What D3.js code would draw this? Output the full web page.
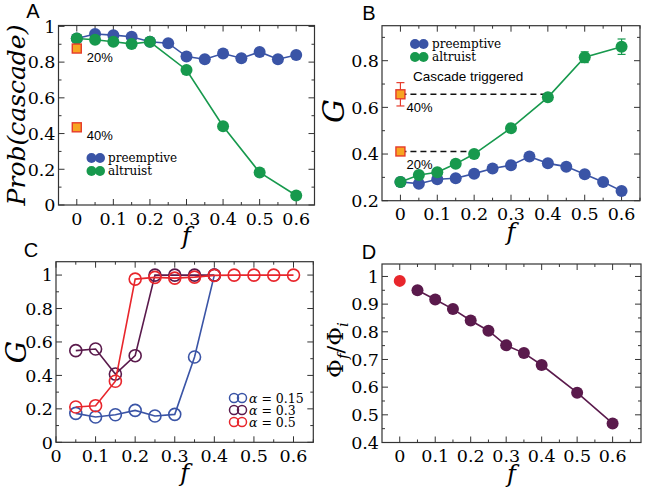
<!DOCTYPE html>
<html><head><meta charset="utf-8">
<script src="https://cdn.jsdelivr.net/npm/d3@7"></script>
<style>
html,body{margin:0;padding:0;background:#fff;}
svg{display:block;}
</style></head>
<body>
<svg id="chart" width="646" height="490"></svg>
<script>
// ---------- DATA ----------
const fAll = [0,0.05,0.1,0.15,0.2,0.25,0.3,0.35,0.4,0.45,0.5,0.55,0.6];
const fAlt = [0,0.05,0.1,0.15,0.2,0.3,0.4,0.5,0.6];
const xTickLabels = [0,0.1,0.2,0.3,0.4,0.5,0.6];

const aPreemptive = [0.932,0.957,0.951,0.942,0.914,0.906,0.831,0.816,0.848,0.822,0.857,0.816,0.84];
const aAltruist   = [0.932,0.925,0.914,0.902,0.914,0.756,0.441,0.182,0.053];
const cascadeLabels = ["20%","40%"];
const aCascade = [0.876,0.435];

const bPreemptive = [0.28,0.273,0.292,0.296,0.316,0.338,0.352,0.389,0.36,0.346,0.313,0.28,0.242];
const bAltruist   = [0.28,0.31,0.322,0.358,0.40,0.511,0.643,0.815,0.86];
const bAltruistErr= [0.004,0.004,0.004,0.004,0.004,0.005,0.006,0.023,0.033];
const bCascade = [0.411,0.656];
const bCascadeErr = [0.016,0.05];
const bCascadeReach = [0.2,0.4];

const fC = [0.05,0.1,0.15,0.2,0.25,0.3,0.35,0.4,0.45,0.5,0.55,0.6];
const alphaLabels = ["0.15","0.3","0.5"];
const cAlpha015 = [0.173,0.151,0.165,0.191,0.157,0.167,0.51,1.0];
const cAlpha03  = [0.548,0.558,0.408,0.518,1.0,1.0,1.0,1.0];
const cAlpha05  = [0.211,0.219,0.365,0.976,0.986,0.982,0.988,0.998,1.0,1.0,1.0,1.0];

const fD = [0.05,0.1,0.15,0.2,0.25,0.3,0.35,0.4,0.5,0.6];
const dRatio = [0.95,0.917,0.882,0.841,0.804,0.751,0.723,0.68,0.58,0.469];
const dBaseline = 0.984;

// ---------- STYLE ----------
const BLUE = "#3a54a6", GREEN = "#17994d", PURPLE = "#5a1a4c", RED = "#e8262c";
const SQ_FILL = "#f7a521", SQ_STROKE = "#e63b2b";
const SERIF = "DejaVu Serif, Liberation Serif, serif";
const SANS = "Liberation Sans, Arial, sans-serif";

const svg = d3.select("#chart");

function range(a,b,s){const r=[];for(let v=a;v<=b+1e-9;v+=s)r.push(+v.toFixed(4));return r;}

function panel(o){
  const g = svg.append("g");
  const x = d3.scaleLinear().domain(o.xd).range([o.x0,o.x1]);
  const y = d3.scaleLinear().domain(o.yd).range([o.y1,o.y0]);
  const tk = g.append("g").attr("stroke","#333").attr("stroke-width",1);
  const major=6, minor=3;
  o.xMajor.forEach(v=>{const px=x(v);
    tk.append("line").attr("x1",px).attr("x2",px).attr("y1",o.y1).attr("y2",o.y1-major);
    tk.append("line").attr("x1",px).attr("x2",px).attr("y1",o.y0).attr("y2",o.y0+major);});
  o.xMinor.forEach(v=>{const px=x(v);
    tk.append("line").attr("x1",px).attr("x2",px).attr("y1",o.y1).attr("y2",o.y1-minor);
    tk.append("line").attr("x1",px).attr("x2",px).attr("y1",o.y0).attr("y2",o.y0+minor);});
  o.yMajor.forEach(v=>{const py=y(v);
    tk.append("line").attr("x1",o.x0).attr("x2",o.x0+major).attr("y1",py).attr("y2",py);
    tk.append("line").attr("x1",o.x1).attr("x2",o.x1-major).attr("y1",py).attr("y2",py);});
  o.yMinor.forEach(v=>{const py=y(v);
    tk.append("line").attr("x1",o.x0).attr("x2",o.x0+minor).attr("y1",py).attr("y2",py);
    tk.append("line").attr("x1",o.x1).attr("x2",o.x1-minor).attr("y1",py).attr("y2",py);});
  g.append("rect").attr("x",o.x0).attr("y",o.y0).attr("width",o.x1-o.x0).attr("height",o.y1-o.y0)
    .attr("fill","none").attr("stroke","#333").attr("stroke-width",1.2);
  const fs = 17.5;
  o.xLabels.forEach(v=>{
    g.append("text").attr("x",x(v)).attr("y",o.y1+19.5).attr("text-anchor","middle")
     .attr("font-family",SERIF).attr("font-size",fs).text(d3.format("")(v));});
  o.yLabels.forEach(v=>{
    g.append("text").attr("x",o.x0-3).attr("y",y(v)+6.3).attr("text-anchor","end")
     .attr("font-family",SERIF).attr("font-size",fs).text(d3.format("")(v));});
  g.append("text").attr("x",(o.x0+o.x1)/2).attr("y",o.y1+39).attr("text-anchor","middle")
   .attr("font-family",SERIF).attr("font-style","italic").attr("font-size",24).text("f");
  g.append("text").attr("x",o.lx).attr("y",o.ly).attr("text-anchor","middle")
   .attr("font-family",SANS).attr("font-size",20).text(o.letter);
  return {g,x,y};
}

const line = (x,y)=>d3.line().x(d=>x(d[0])).y(d=>y(d[1]));
function series(g,x,y,fs,vs,color,r,open){
  const pts = fs.map((f,i)=>[f,vs[i]]);
  g.append("path").datum(pts).attr("d",line(x,y)).attr("fill","none").attr("stroke",color).attr("stroke-width",1.6);
  g.selectAll(null).data(pts).enter().append("circle")
   .attr("cx",d=>x(d[0])).attr("cy",d=>y(d[1])).attr("r",r)
   .attr("fill",open?"none":color).attr("stroke",color).attr("stroke-width",open?1.6:0);
}
function square(g,px,py){
  g.append("rect").attr("x",px-4.5).attr("y",py-4.5).attr("width",9).attr("height",9)
   .attr("fill",SQ_FILL).attr("stroke",SQ_STROKE).attr("stroke-width",1.4);
}
function legendDots(g,x0,y0,color,r,gap,open){
  [0,gap].forEach(dx=>g.append("circle").attr("cx",x0+dx).attr("cy",y0).attr("r",r)
    .attr("fill",open?"none":color).attr("stroke",color).attr("stroke-width",open?1.5:0));
}

// ---------- PANEL A ----------
{
  const {g,x,y} = panel({letter:"A",lx:33,ly:18,x0:58.5,x1:314.5,y0:25.5,y1:205,xd:[-0.05,0.65],yd:[0,1.005],
    xMajor:range(0,0.6,0.1),xMinor:range(0.05,0.65,0.1),yMajor:range(0,1,0.2),yMinor:range(0.1,0.9,0.2),
    xLabels:xTickLabels,yLabels:[0,0.2,0.4,0.6,0.8,1]});
  series(g,x,y,fAll,aPreemptive,BLUE,6,false);
  series(g,x,y,fAlt,aAltruist,GREEN,6,false);
  aCascade.forEach((v,i)=>{square(g,x(0),y(v));
    g.append("text").attr("x",x(0)+10).attr("y",y(v)+13).attr("font-family",SANS).attr("font-size",13).text(cascadeLabels[i]);});
  legendDots(g,91.5,158,BLUE,5,8.5,false);
  legendDots(g,91.5,171,GREEN,5,8.5,false);
  g.append("text").attr("x",108).attr("y",162).attr("font-family",SERIF).attr("font-size",12).text("preemptive");
  g.append("text").attr("x",108).attr("y",175).attr("font-family",SERIF).attr("font-size",12).text("altruist");
  g.append("text").attr("transform","translate(25,115) rotate(-90)").attr("text-anchor","middle")
   .attr("font-family",SERIF).attr("font-style","italic").attr("font-size",25).text("Prob(cascade)");
}

// ---------- PANEL B ----------
{
  const {g,x,y} = panel({letter:"B",lx:369,ly:20,x0:382,x1:640,y0:25.7,y1:200.7,xd:[-0.05,0.65],yd:[0.2,0.95],
    xMajor:range(0,0.6,0.1),xMinor:range(0.05,0.65,0.1),yMajor:range(0.2,0.8,0.2),yMinor:range(0.3,0.9,0.2),
    xLabels:xTickLabels,yLabels:[0.2,0.4,0.6,0.8]});
  bCascade.forEach((v,i)=>{
    g.append("line").attr("x1",x(0)).attr("x2",x(bCascadeReach[i])).attr("y1",y(v)).attr("y2",y(v))
     .attr("stroke","#111").attr("stroke-width",1.6).attr("stroke-dasharray","6,4");});
  series(g,x,y,fAll,bPreemptive,BLUE,6,false);
  fAlt.forEach((f,i)=>{const e=bAltruistErr[i];if(e<0.01)return;
    const px=x(f);
    g.append("line").attr("x1",px).attr("x2",px).attr("y1",y(bAltruist[i]-e)).attr("y2",y(bAltruist[i]+e)).attr("stroke",GREEN).attr("stroke-width",1.2);
    [bAltruist[i]-e,bAltruist[i]+e].forEach(v=>g.append("line").attr("x1",px-4).attr("x2",px+4).attr("y1",y(v)).attr("y2",y(v)).attr("stroke",GREEN).attr("stroke-width",1.2));});
  series(g,x,y,fAlt,bAltruist,GREEN,6,false);
  bCascade.forEach((v,i)=>{const px=x(0),e=bCascadeErr[i];
    g.append("line").attr("x1",px).attr("x2",px).attr("y1",y(v-e)).attr("y2",y(v+e)).attr("stroke",SQ_STROKE).attr("stroke-width",1.2);
    [v-e,v+e].forEach(w=>g.append("line").attr("x1",px-4).attr("x2",px+4).attr("y1",y(w)).attr("y2",y(w)).attr("stroke",SQ_STROKE).attr("stroke-width",1.2));
    square(g,px,y(v));
    g.append("text").attr("x",px+6).attr("y",y(v)+18).attr("font-family",SANS).attr("font-size",13).text(cascadeLabels[i]);});
  g.append("text").attr("x",413).attr("y",81).attr("font-family",SANS).attr("font-size",13.5).text("Cascade triggered");
  legendDots(g,415,44,BLUE,5,8.5,false);
  legendDots(g,415,57,GREEN,5,8.5,false);
  g.append("text").attr("x",432).attr("y",48).attr("font-family",SERIF).attr("font-size",12).text("preemptive");
  g.append("text").attr("x",432).attr("y",61).attr("font-family",SERIF).attr("font-size",12).text("altruist");
  g.append("text").attr("transform","translate(344,111) rotate(-90)").attr("text-anchor","middle")
   .attr("font-family",SERIF).attr("font-style","italic").attr("font-size",30).text("G");
}

// ---------- PANEL C ----------
{
  const {g,x,y} = panel({letter:"C",lx:31,ly:257,x0:56,x1:313.3,y0:261.7,y1:442.3,xd:[0,0.65],yd:[0,1.08],
    xMajor:range(0,0.6,0.1),xMinor:range(0.05,0.65,0.1),yMajor:range(0,1,0.2),yMinor:range(0.1,0.9,0.2),
    xLabels:xTickLabels,yLabels:[0,0.2,0.4,0.6,0.8,1]});
  series(g,x,y,fC.slice(0,cAlpha015.length),cAlpha015,BLUE,6,true);
  series(g,x,y,fC.slice(0,cAlpha03.length),cAlpha03,PURPLE,6,true);
  series(g,x,y,fC,cAlpha05,RED,6,true);
  [BLUE,PURPLE,RED].forEach((c,i)=>{const ly=398+i*12;
    legendDots(g,234,ly,c,4.5,8,true);
    const t=g.append("text").attr("x",249).attr("y",ly+4.5).attr("font-family",SERIF).attr("font-size",12.5);
    t.append("tspan").attr("font-style","italic").text("α");
    t.append("tspan").text(" = "+alphaLabels[i]);});
  g.append("text").attr("transform","translate(26,352) rotate(-90)").attr("text-anchor","middle")
   .attr("font-family",SERIF).attr("font-style","italic").attr("font-size",28).text("G");
}

// ---------- PANEL D ----------
{
  const {g,x,y} = panel({letter:"D",lx:369,ly:259,x0:382,x1:641,y0:264,y1:442.5,xd:[-0.05,0.68],yd:[0.4,1.045],
    xMajor:range(0,0.6,0.1),xMinor:range(0.05,0.65,0.1),yMajor:range(0.4,1,0.1),yMinor:range(0.45,1.0,0.1),
    xLabels:xTickLabels,yLabels:[0.4,0.5,0.6,0.7,0.8,0.9,1]});
  series(g,x,y,fD,dRatio,PURPLE,6,false);
  g.append("circle").attr("cx",x(0)).attr("cy",y(dBaseline)).attr("r",6).attr("fill",RED);
  const t=g.append("text").attr("transform","translate(343,350) rotate(-90)").attr("text-anchor","middle")
   .attr("font-family",SERIF).attr("font-size",23);
  t.append("tspan").text("Φ");
  t.append("tspan").attr("font-style","italic").attr("font-size",15).attr("dy",5).text("f");
  t.append("tspan").attr("dy",-5).text("/Φ");
  t.append("tspan").attr("font-style","italic").attr("font-size",15).attr("dy",5).text("i");
}
</script>
</body></html>
